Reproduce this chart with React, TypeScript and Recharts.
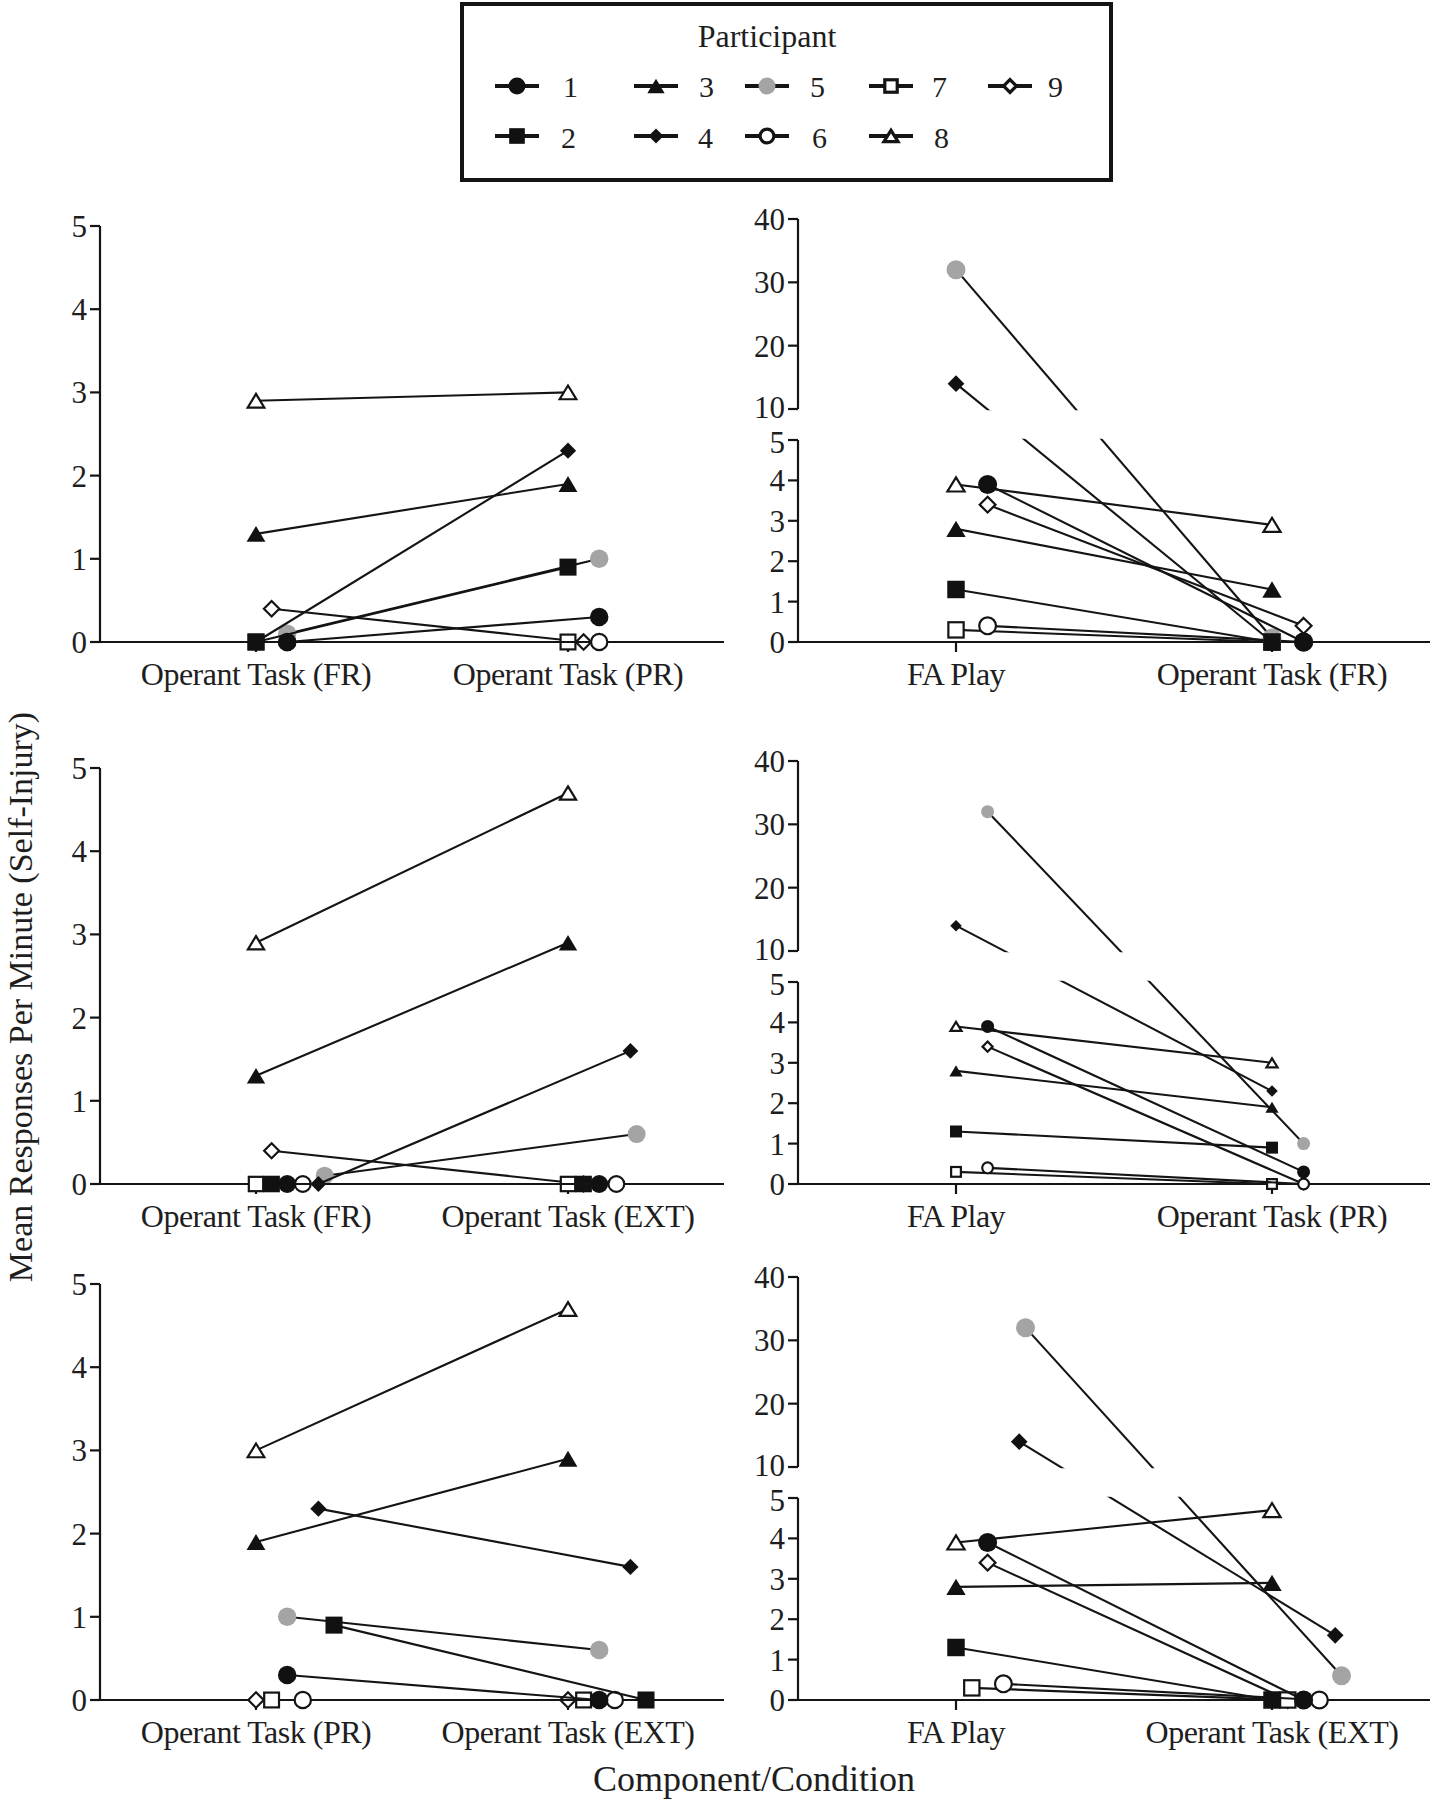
import React from 'react';
import { ScatterChart, Scatter, XAxis, YAxis, ReferenceArea, ReferenceLine } from 'recharts';

// ---------- data ----------
const PARTICIPANTS = ['1', '2', '3', '4', '5', '6', '7', '8', '9'];

const CATS_TOP_LEFT = ['Operant Task (FR)', 'Operant Task (PR)'];
const CATS_TOP_RIGHT = ['FA Play', 'Operant Task (FR)'];
const CATS_MID_LEFT = ['Operant Task (FR)', 'Operant Task (EXT)'];
const CATS_MID_RIGHT = ['FA Play', 'Operant Task (PR)'];
const CATS_BOT_LEFT = ['Operant Task (PR)', 'Operant Task (EXT)'];
const CATS_BOT_RIGHT = ['FA Play', 'Operant Task (EXT)'];

// values for participants 1..9 (first condition, second condition)
const TOP_LEFT_A = [0, 0, 1.3, 0, 0.1, 0, 0, 2.9, 0.4];
const TOP_LEFT_B = [0.3, 0.9, 1.9, 2.3, 1.0, 0, 0, 3.0, 0];
const TOP_RIGHT_A = [3.9, 1.3, 2.8, 14, 32, 0.4, 0.3, 3.9, 3.4];
const TOP_RIGHT_B = [0, 0, 1.3, 0, 0.1, 0, 0, 2.9, 0.4];
const MID_LEFT_A = [0, 0, 1.3, 0, 0.1, 0, 0, 2.9, 0.4];
const MID_LEFT_B = [0, 0, 2.9, 1.6, 0.6, 0, 0, 4.7, 0];
const MID_RIGHT_A = [3.9, 1.3, 2.8, 14, 32, 0.4, 0.3, 3.9, 3.4];
const MID_RIGHT_B = [0.3, 0.9, 1.9, 2.3, 1.0, 0, 0, 3.0, 0];
const BOT_LEFT_A = [0.3, 0.9, 1.9, 2.3, 1.0, 0, 0, 3.0, 0];
const BOT_LEFT_B = [0, 0, 2.9, 1.6, 0.6, 0, 0, 4.7, 0];
const BOT_RIGHT_A = [3.9, 1.3, 2.8, 14, 32, 0.4, 0.3, 3.9, 3.4];
const BOT_RIGHT_B = [0, 0, 2.9, 1.6, 0.6, 0, 0, 4.7, 0];

// tick labels
const LEFT_TICKS = [0, 1, 2, 3, 4, 5];
const RIGHT_TICKS = [0, 1, 2, 3, 4, 5, 10, 20, 30, 40];

// ---------- layout / style (not data) ----------
// horizontal jitter of markers around each category (category units)
const JIT_TOP_LEFT = [0.1, 0, 0, 0, 0.1, 0.1, 0, 0, 0.05];
const JIT_TOP_RIGHT = [0.1, 0, 0, 0, 0, 0.1, 0, 0, 0.1];
const JIT_MID_LEFT_A = [0.1, 0.05, 0, 0.2, 0.22, 0.15, 0, 0, 0.05];
const JIT_MID_LEFT_B = [0.1, 0.05, 0, 0.2, 0.22, 0.155, 0, 0, 0.05];
const JIT_MID_RIGHT = [0.1, 0, 0, 0, 0.1, 0.1, 0, 0, 0.1];
const JIT_BOT_LEFT = [0.1, 0.25, 0, 0.2, 0.1, 0.15, 0.05, 0, 0];
const JIT_BOT_RIGHT_A = [0.1, 0, 0, 0.2, 0.22, 0.15, 0.05, 0, 0.1];
const JIT_BOT_RIGHT_B = [0.1, 0, 0, 0.2, 0.22, 0.15, 0.05, 0, 0.05];

const SHAPES = ['circle', 'square', 'triangle', 'diamond', 'circle', 'circle', 'square', 'triangle', 'diamond'];
const FILLS = ['#111', '#111', '#111', '#111', '#a4a4a4', '#fff', '#fff', '#fff', '#fff'];
const OPEN = [false, false, false, false, false, true, true, true, true];

const INK = '#141414';
const TEXT = '#1e1e1e';
const FONT = "'Liberation Serif', 'Times New Roman', serif";
const Y_FONT = 31;

// broken axis (pixel heights of the segments)
const LOW_PX = 202;
const GAP_PX = 31;
const HIGH_PX = 190;
const brk = (v: number) => (v <= 5 ? (v * LOW_PX) / 5 : LOW_PX + GAP_PX + ((v - 10) * HIGH_PX) / 30);

function Marker({ cx, cy, idx, size, sw }: { cx: number; cy: number; idx: number; size: number; sw: number }) {
  if (cx == null || cy == null || isNaN(cx) || isNaN(cy)) return null;
  const shape = SHAPES[idx];
  const fill = FILLS[idx];
  const open = OPEN[idx];
  const stroke = open ? INK : 'none';
  const inset = open ? sw / 2 : 0;
  if (shape === 'circle') {
    return <circle cx={cx} cy={cy} r={size / 2 - inset} fill={fill} stroke={stroke} strokeWidth={sw} />;
  }
  if (shape === 'square') {
    const s = size * 0.92 - inset * 2;
    return <rect x={cx - s / 2} y={cy - s / 2} width={s} height={s} fill={fill} stroke={stroke} strokeWidth={sw} />;
  }
  if (shape === 'triangle') {
    const w = size * 1.02 - inset * 2;
    const h = size * 0.86 - inset * 2;
    const pts = `${cx},${cy - h / 2} ${cx + w / 2},${cy + h / 2} ${cx - w / 2},${cy + h / 2}`;
    return <polygon points={pts} fill={fill} stroke={stroke} strokeWidth={sw} strokeLinejoin="miter" />;
  }
  const d = (open ? size * 0.95 : size * 0.88) / 2 - inset;
  const pts = `${cx},${cy - d} ${cx + d},${cy} ${cx},${cy + d} ${cx - d},${cy}`;
  return <polygon points={pts} fill={fill} stroke={stroke} strokeWidth={sw} />;
}

function makeYTick(labels: number[], broken: boolean) {
  return (props: any) => {
    const { x, y, index } = props;
    const label = labels[index];
    // nudge the two labels that sit either side of the axis break apart
    let nudge = 0;
    if (broken && label === 10) nudge = -2;
    if (broken && label === 5) nudge = 2;
    return (
      <text x={x} y={y + nudge} dy="0.355em" textAnchor="end" fontSize={Y_FONT} fontFamily={FONT} fill={TEXT}>
        {String(label)}
      </text>
    );
  };
}

type PanelProps = {
  left: number;
  top: number;
  plotW: number;
  plotH: number;
  cats: string[];
  a: number[];
  b: number[];
  ja: number[];
  jb: number[];
  broken: boolean;
  size: number;
};

const M_TOP = 20;
const Y_W = 100;
const X_H = 60;

function Panel({ left, top, plotW, plotH, cats, a, b, ja, jb, broken, size }: PanelProps) {
  const tf = broken ? brk : (v: number) => v;
  const ticks = broken ? RIGHT_TICKS.map(brk) : LEFT_TICKS;
  const labels = broken ? RIGHT_TICKS : LEFT_TICKS;
  const domain: [number, number] = broken ? [0, brk(40)] : [0, 5];
  const order = [8, 7, 6, 5, 4, 3, 2, 1, 0];
  const rightMargin = broken ? 2 : 10;
  const width = Y_W + plotW + rightMargin;
  const height = M_TOP + plotH + X_H;
  const xTickStyle = { fontSize: 32, fontFamily: FONT, fill: TEXT, letterSpacing: -0.5 };
  return (
    <div style={{ position: 'absolute', left: left - Y_W, top: top - M_TOP, width, height }}>
      <ScatterChart width={width} height={height} margin={{ top: M_TOP, right: rightMargin, bottom: 0, left: 0 }}>
        <XAxis
          type="number"
          dataKey="x"
          domain={[-0.5, 1.5]}
          ticks={[0, 1]}
          interval={0}
          tickFormatter={(v: number) => cats[Math.round(v)]}
          tickSize={10}
          tickMargin={10}
          height={X_H}
          axisLine={{ stroke: INK, strokeWidth: 2.2 }}
          tickLine={{ stroke: INK, strokeWidth: 2.2 }}
          tick={xTickStyle}
        />
        <YAxis
          type="number"
          dataKey="y"
          domain={domain}
          ticks={ticks}
          interval={0}
          tickSize={10}
          tickMargin={3}
          width={Y_W}
          axisLine={broken ? false : { stroke: INK, strokeWidth: 2.2 }}
          tickLine={{ stroke: INK, strokeWidth: 2.2 }}
          tick={makeYTick(labels, broken)}
        />
        {order.map((i) => (
          <Scatter
            key={PARTICIPANTS[i]}
            name={PARTICIPANTS[i]}
            data={[
              { x: 0 + ja[i], y: tf(a[i]) },
              { x: 1 + jb[i], y: tf(b[i]) },
            ]}
            line={{ stroke: INK, strokeWidth: 2.1 }}
            isAnimationActive={false}
            shape={(p: any) => <Marker cx={p.cx} cy={p.cy} idx={i} size={size} sw={2.2} />}
          />
        ))}
        {broken && (
          <ReferenceArea
            x1={-0.5}
            x2={1.5}
            y1={brk(5) + 1.2}
            y2={brk(10) - 1.2}
            fill="#fff"
            fillOpacity={1}
            stroke="none"
            ifOverflow="visible"
            zIndex={3000}
          />
        )}
        {broken && (
          <ReferenceLine
            segment={[
              { x: -0.5, y: 0 },
              { x: -0.5, y: brk(5) },
            ]}
            stroke={INK}
            strokeWidth={2.2}
            ifOverflow="visible"
            zIndex={3100}
          />
        )}
        {broken && (
          <ReferenceLine
            segment={[
              { x: -0.5, y: brk(10) },
              { x: -0.5, y: brk(40) },
            ]}
            stroke={INK}
            strokeWidth={2.2}
            ifOverflow="visible"
            zIndex={3100}
          />
        )}
      </ScatterChart>
    </div>
  );
}

// legend layout
const LEG_X = [517, 517, 656, 656, 767, 767, 891, 891, 1010];
const LEG_ROW = [0, 1, 0, 1, 0, 1, 0, 1, 0];
const LEG_LABEL_X = [563, 561, 699, 698, 810, 812, 932, 934, 1048];
const LEG_ROW_Y = [86, 136];
const LEG_ROW_BASE = [97, 148];

function Overlay() {
  return (
    <svg width={1432} height={1800} style={{ position: 'absolute', left: 0, top: 0 }}>
      <rect x={462} y={4} width={649} height={176} fill="#fff" stroke={INK} strokeWidth={4} />
      <text x={767} y={47} textAnchor="middle" fontSize={32} fontFamily={FONT} fill={TEXT}>
        Participant
      </text>
      {PARTICIPANTS.map((p, i) => {
        const y = LEG_ROW_Y[LEG_ROW[i]];
        const x = LEG_X[i];
        return (
          <g key={p}>
            <line x1={x - 22} y1={y} x2={x + 22} y2={y} stroke={INK} strokeWidth={3.8} />
            <Marker cx={x} cy={y} idx={i} size={17} sw={3.2} />
            <text x={LEG_LABEL_X[i]} y={LEG_ROW_BASE[LEG_ROW[i]]} fontSize={30} fontFamily={FONT} fill={TEXT}>
              {p}
            </text>
          </g>
        );
      })}
      <text
        x={0}
        y={0}
        transform="translate(20,997) rotate(-90)"
        textAnchor="middle"
        dominantBaseline="central"
        fontSize={34}
        fontFamily={FONT}
        fill={TEXT}
      >
        Mean Responses Per Minute (Self-Injury)
      </text>
      <text x={754} y={1791} textAnchor="middle" fontSize={36} fontFamily={FONT} fill={TEXT}>
        Component/Condition
      </text>
    </svg>
  );
}

const ROW_BOTTOM = [642, 1184, 1700];
const LEFT_X = 100;
const RIGHT_X = 798;
const LEFT_W = 624;
const RIGHT_W = 632;
const LEFT_H = 416;
const RIGHT_H = LOW_PX + GAP_PX + HIGH_PX;

export default function App() {
  return (
    <div style={{ position: 'absolute', left: 0, top: 0, width: 1432, height: 1800, background: '#fff' }}>
      <Overlay />
      <Panel left={LEFT_X} top={ROW_BOTTOM[0] - LEFT_H} plotW={LEFT_W} plotH={LEFT_H} cats={CATS_TOP_LEFT}
        a={TOP_LEFT_A} b={TOP_LEFT_B} ja={JIT_TOP_LEFT} jb={JIT_TOP_LEFT} broken={false} size={18.5} />
      <Panel left={RIGHT_X} top={ROW_BOTTOM[0] - RIGHT_H} plotW={RIGHT_W} plotH={RIGHT_H} cats={CATS_TOP_RIGHT}
        a={TOP_RIGHT_A} b={TOP_RIGHT_B} ja={JIT_TOP_RIGHT} jb={JIT_TOP_RIGHT} broken={true} size={19} />
      <Panel left={LEFT_X} top={ROW_BOTTOM[1] - LEFT_H} plotW={LEFT_W} plotH={LEFT_H} cats={CATS_MID_LEFT}
        a={MID_LEFT_A} b={MID_LEFT_B} ja={JIT_MID_LEFT_A} jb={JIT_MID_LEFT_B} broken={false} size={18} />
      <Panel left={RIGHT_X} top={ROW_BOTTOM[1] - RIGHT_H} plotW={RIGHT_W} plotH={RIGHT_H} cats={CATS_MID_RIGHT}
        a={MID_RIGHT_A} b={MID_RIGHT_B} ja={JIT_MID_RIGHT} jb={JIT_MID_RIGHT} broken={true} size={13} />
      <Panel left={LEFT_X} top={ROW_BOTTOM[2] - LEFT_H} plotW={LEFT_W} plotH={LEFT_H} cats={CATS_BOT_LEFT}
        a={BOT_LEFT_A} b={BOT_LEFT_B} ja={JIT_BOT_LEFT} jb={JIT_BOT_LEFT} broken={false} size={18.5} />
      <Panel left={RIGHT_X} top={ROW_BOTTOM[2] - RIGHT_H} plotW={RIGHT_W} plotH={RIGHT_H} cats={CATS_BOT_RIGHT}
        a={BOT_RIGHT_A} b={BOT_RIGHT_B} ja={JIT_BOT_RIGHT_A} jb={JIT_BOT_RIGHT_B} broken={true} size={19} />
    </div>
  );
}
